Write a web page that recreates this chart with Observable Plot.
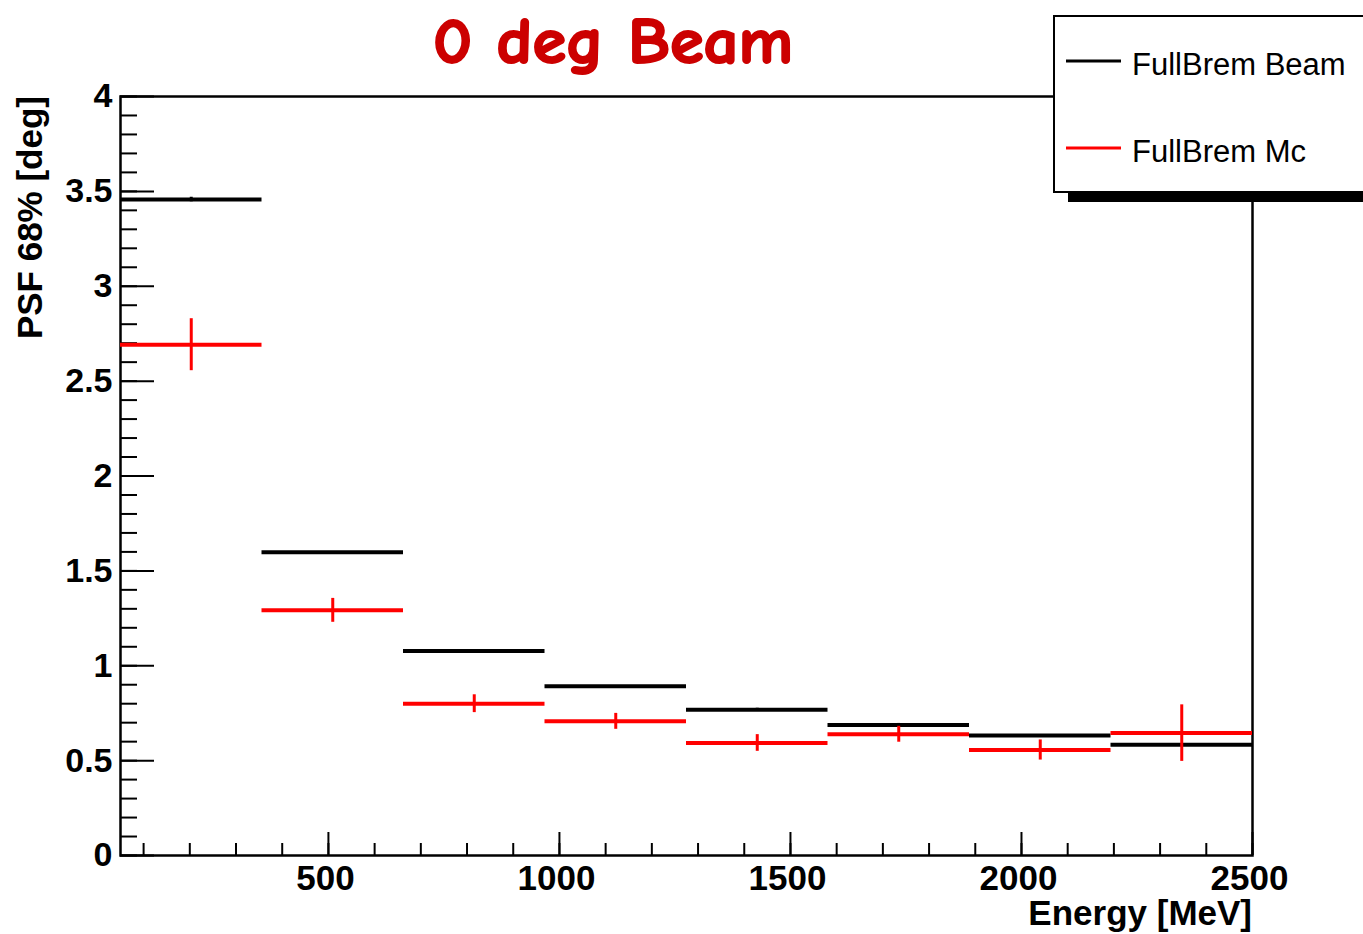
<!DOCTYPE html>
<html><head><meta charset="utf-8">
<script src="https://cdn.jsdelivr.net/npm/d3@7"></script>
<script src="https://cdn.jsdelivr.net/npm/@observablehq/plot@0.6"></script>
<style>
html,body{margin:0;padding:0;background:#fff;overflow:hidden}
#chart{position:relative;width:1363px;height:934px;overflow:hidden}
</style></head><body><div id="chart"></div>
<script>
// ---- data ----
const binEdges = [50, 356.25, 662.5, 968.75, 1275, 1581.25, 1887.5, 2193.75, 2500];
const beamValues = [3.457, 1.598, 1.078, 0.892, 0.768, 0.688, 0.632, 0.584];
const beamErrors = [0.012, 0.004, 0.004, 0.004, 0.008, 0.008, 0.004, 0.004];
const mcValues = [2.692, 1.292, 0.800, 0.707, 0.593, 0.639, 0.556, 0.645];
const mcErrors = [0.137, 0.063, 0.047, 0.042, 0.044, 0.042, 0.053, 0.149];
const seriesNames = ["FullBrem Beam", "FullBrem Mc"];
const seriesColors = ["#000000", "#ff0000"];
const xMajorTicks = [500, 1000, 1500, 2000, 2500];
const xMinorTicks = d3.range(100, 2501, 100);
const yMajorTicks = [0, 0.5, 1, 1.5, 2, 2.5, 3, 3.5, 4];
const yMinorTicks = d3.range(0, 41, 1).map(d => d / 10);
const titleText = "0 deg Beam";
const xLabel = "Energy [MeV]";
const yLabel = "PSF 68% [deg]";

function buildRows(values, errors, name) {
  return values.map((v, i) => ({
    series: name,
    x1: binEdges[i], x2: binEdges[i + 1],
    xc: (binEdges[i] + binEdges[i + 1]) / 2,
    y: v, lo: v - errors[i], hi: v + errors[i]
  }));
}
const beamRows = buildRows(beamValues, beamErrors, seriesNames[0]);
const mcRows = buildRows(mcValues, mcErrors, seriesNames[1]);

const chart = Plot.plot({
  width: 1363, height: 934,
  marginLeft: 120, marginRight: 111, marginTop: 96, marginBottom: 79,
  x: {domain: [50, 2500]},
  y: {domain: [0, 4]},
  style: {fontFamily: "'Liberation Sans', Arial, Helvetica, sans-serif", background: "#fff", color: "#000"},
  marks: [
    Plot.axisY({ticks: yMinorTicks, tickSize: -17, fill: "none", label: null, strokeWidth: 2}),
    Plot.axisY({ticks: yMajorTicks, tickSize: -34, fill: "none", label: null, strokeWidth: 2}),
    Plot.axisY({ticks: yMajorTicks, tickSize: 0, tickPadding: 8, label: null, tickFormat: d => String(d), fontSize: 34, fontWeight: "bold"}),
    Plot.axisX({ticks: xMinorTicks, tickSize: -12, fill: "none", label: null, strokeWidth: 2}),
    Plot.axisX({ticks: xMajorTicks, tickSize: 0, tickPadding: 10, label: null, tickFormat: d => String(d), fontSize: 35, fontWeight: "bold", dx: -3}),
    Plot.axisX({ticks: xMajorTicks, tickSize: -23, fill: "none", label: null, strokeWidth: 2}),
    Plot.frame({stroke: "#000", strokeWidth: 2.5}),
    Plot.ruleY(beamRows, {x1: "x1", x2: "x2", y: "y", stroke: seriesColors[0], strokeWidth: 4}),
    Plot.ruleX(beamRows, {x: "xc", y1: "lo", y2: "hi", stroke: seriesColors[0], strokeWidth: 3}),
    Plot.ruleY(mcRows, {x1: "x1", x2: "x2", y: "y", stroke: seriesColors[1], strokeWidth: 4}),
    Plot.ruleX(mcRows, {x: "xc", y1: "lo", y2: "hi", stroke: seriesColors[1], strokeWidth: 3})
  ]
});
document.getElementById("chart").appendChild(chart);

const svg = d3.select(chart);
// axis titles
svg.append("text")
  .attr("transform", "translate(42,96) rotate(-90)")
  .attr("text-anchor", "end")
  .attr("font-family", "'Liberation Sans', Arial, sans-serif")
  .attr("font-weight", "bold").attr("font-size", 35).attr("fill", "#000")
  .text(yLabel);
svg.append("text")
  .attr("x", 1252).attr("y", 925)
  .attr("text-anchor", "end")
  .attr("font-family", "'Liberation Sans', Arial, sans-serif")
  .attr("font-weight", "bold").attr("font-size", 35).attr("fill", "#000")
  .text(xLabel);
// title
svg.append("text")
  .attr("x", 433).attr("y", 63)
  .attr("text-anchor", "start")
  .attr("textLength", 360).attr("lengthAdjust", "spacingAndGlyphs")
  .attr("font-family", "'Comic Sans MS', 'Comic Neue', 'DejaVu Sans', sans-serif")
  .attr("font-weight", "bold").attr("font-size", 64).attr("fill", "#cc0000")
  .attr("stroke", "#cc0000").attr("stroke-width", 2).attr("stroke-linejoin", "round")
  .text(titleText);
// legend
const lg = svg.append("g");
lg.append("rect").attr("x", 1068).attr("y", 192).attr("width", 320).attr("height", 10).attr("fill", "#000");
lg.append("rect").attr("x", 1054).attr("y", 16).attr("width", 330).attr("height", 176)
  .attr("fill", "#fff").attr("stroke", "#000").attr("stroke-width", 2);
const entryY = [61, 148];
seriesNames.forEach((name, i) => {
  lg.append("line").attr("x1", 1066).attr("x2", 1121).attr("y1", entryY[i]).attr("y2", entryY[i])
    .attr("stroke", seriesColors[i]).attr("stroke-width", 3);
  lg.append("text").attr("x", 1132).attr("y", entryY[i] + 14)
    .attr("text-anchor", "start")
    .attr("font-family", "'Liberation Sans', Arial, sans-serif")
    .attr("font-size", 31).attr("fill", "#000")
    .text(name);
});
</script></body></html>
